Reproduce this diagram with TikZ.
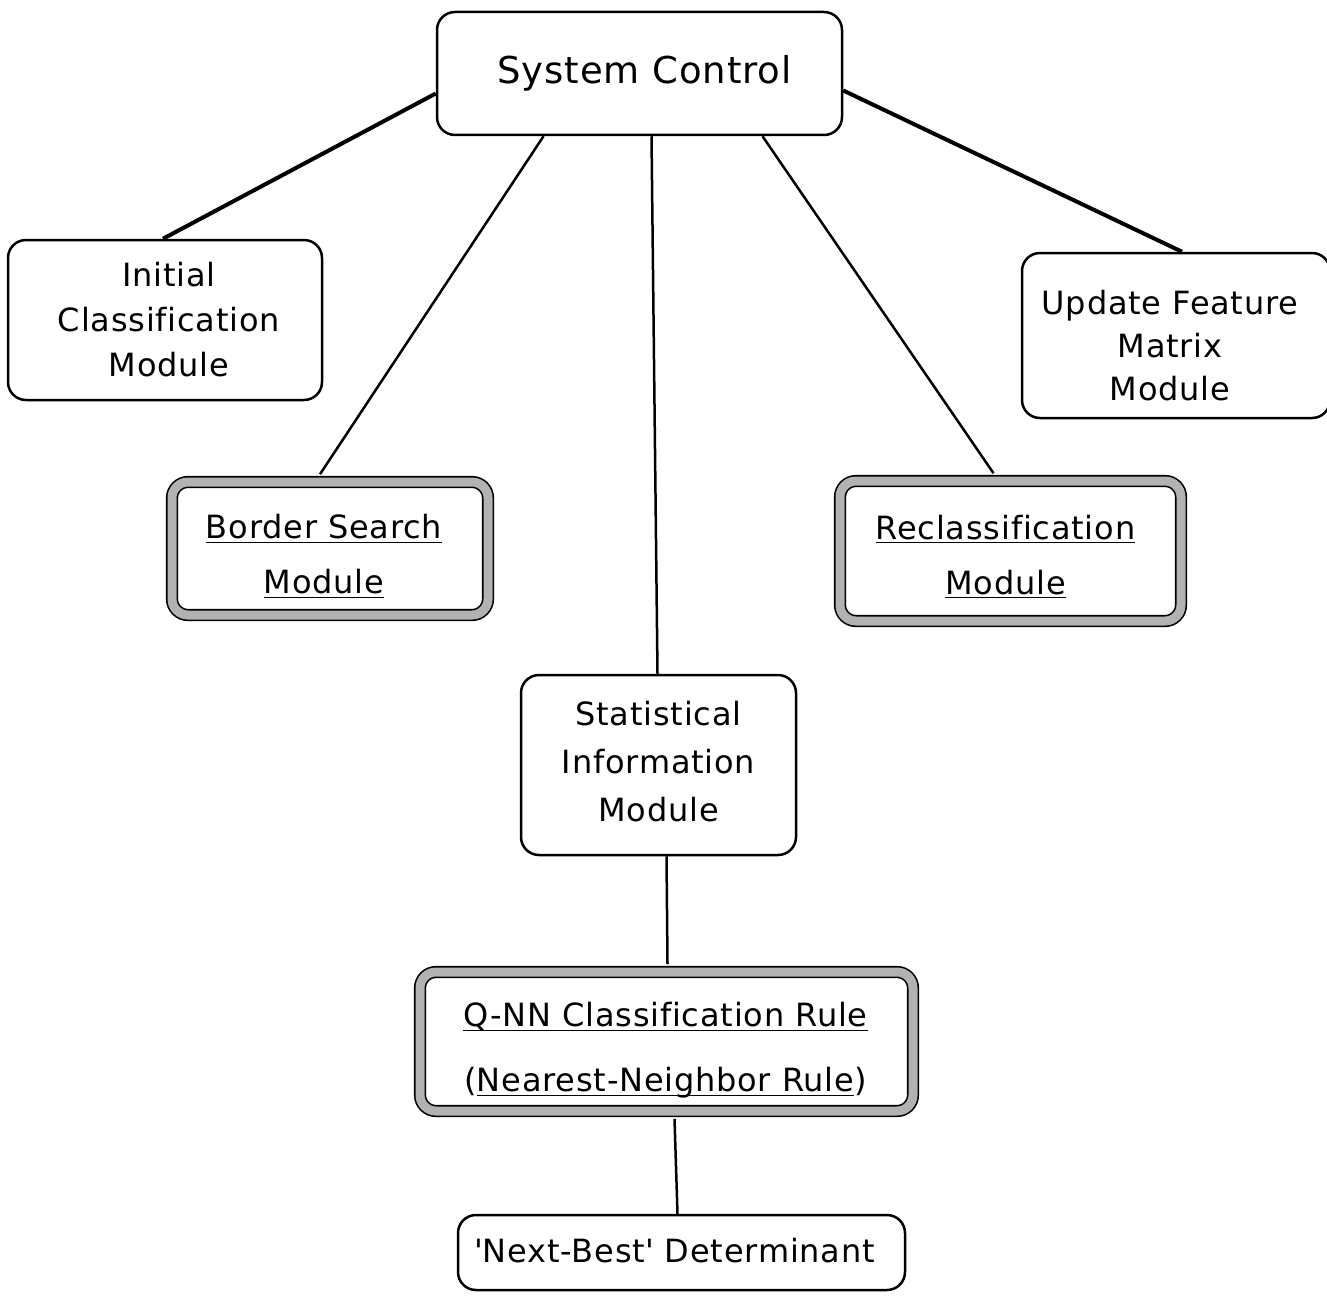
\documentclass[tikz,border=0pt]{standalone}
\usepackage{fontspec}
\usepackage{amsmath}
\setmainfont{DejaVu Sans}[Ligatures=NoCommon, LetterSpace=2.5]
\usetikzlibrary{calc}
\newcommand{\ulx}[1]{\underline{\smash[b]{#1}}}
\begin{document}
\begin{tikzpicture}[x=1pt,y=-1pt,
  box/.style={draw, line width=2.5pt, rounded corners=18pt, inner sep=0pt},
  hbox/.style={draw, line width=1.6pt, double=gray!60, double distance=9pt, rounded corners=16pt, inner sep=0pt},
  txt/.style={inner sep=0pt, align=center},
  thicklink/.style={line width=4pt},
  link/.style={line width=2.5pt}]
\useasboundingbox (0,0) rectangle (1327,1295);
\fill[white] (0,0) rectangle (1327,1295);

% boxes
\node[box, minimum width=405pt, minimum height=123pt] (sys) at (639.5,73.5) {};
\node[box, minimum width=314pt, minimum height=160pt] (init) at (165,320) {};
\node[box, minimum width=308pt, minimum height=165pt] (upd) at (1176,335.5) {};
\node[hbox, minimum width=316pt, minimum height=133pt] (border) at (330,548.5) {};
\node[hbox, minimum width=341pt, minimum height=140pt] (recl) at (1010.5,551) {};
\node[box, minimum width=275pt, minimum height=180pt] (stat) at (658.5,765) {};
\node[hbox, minimum width=493pt, minimum height=139pt] (qnn) at (666.5,1041.5) {};
\node[box, minimum width=447pt, minimum height=75pt] (nb) at (681.5,1252.5) {};

% texts
\node[txt, font=\fontsize{37}{45}\selectfont] (sysT) at ($(sys.center)+(5,0)$) {System Control};
\node[txt, font=\fontsize{32}{45}\selectfont] (initT) at ($(init.center)+(4,0)$) {Initial\\Classification\\Module};
\node[txt, font=\fontsize{32}{43}\selectfont] (updT) at ($(upd.center)+(-6,10)$) {Update Feature\\Matrix\\Module};
\node[txt, font=\fontsize{32}{55}\selectfont] (borderT) at ($(border.center)+(-6,8)$) {\ulx{Border Search}\\\ulx{Module}};
\node[txt, font=\fontsize{32}{55}\selectfont] (reclT) at ($(recl.center)+(-5,6)$) {\ulx{Reclassification}\\\ulx{Module}};
\node[txt, font=\fontsize{32}{48}\selectfont] (statT) at ($(stat.center)+(0,-3)$) {Statistical\\Information\\Module};
\node[txt, font=\fontsize{32}{65}\selectfont] (qnnT) at ($(qnn.center)+(-1,8)$) {\ulx{Q-NN Classification Rule}\\(\ulx{Nearest-Neighbor Rule})};
\node[txt, font=\fontsize{32}{45}\selectfont] (nbT) at ($(nb.center)+(-7,-2)$) {\textquotesingle Next-Best\textquotesingle\ Determinant};

% connectors
\draw[thicklink] ($(sys.west)+(0,20)$) -- ($(init.north)+(-2,0)$);
\draw[link] ($(sys.south)+(-96,0)$) -- ($(border.north)+(-10,-7)$);
\draw[link] ($(sys.south)+(12,0)$) -- ($(stat.north)+(-1,0)$);
\draw[link] ($(sys.south)+(123,0)$) -- ($(recl.north)+(-17,-7)$);
\draw[thicklink] ($(sys.east)+(0,17)$) -- ($(upd.north)+(6,0)$);
\draw[link] ($(stat.south)+(8,0)$) -- ($(qnn.north)+(1,-7)$);
\draw[link] ($(qnn.south)+(8,7)$) -- ($(nb.north)+(-4,0)$);
\end{tikzpicture}
\end{document}
